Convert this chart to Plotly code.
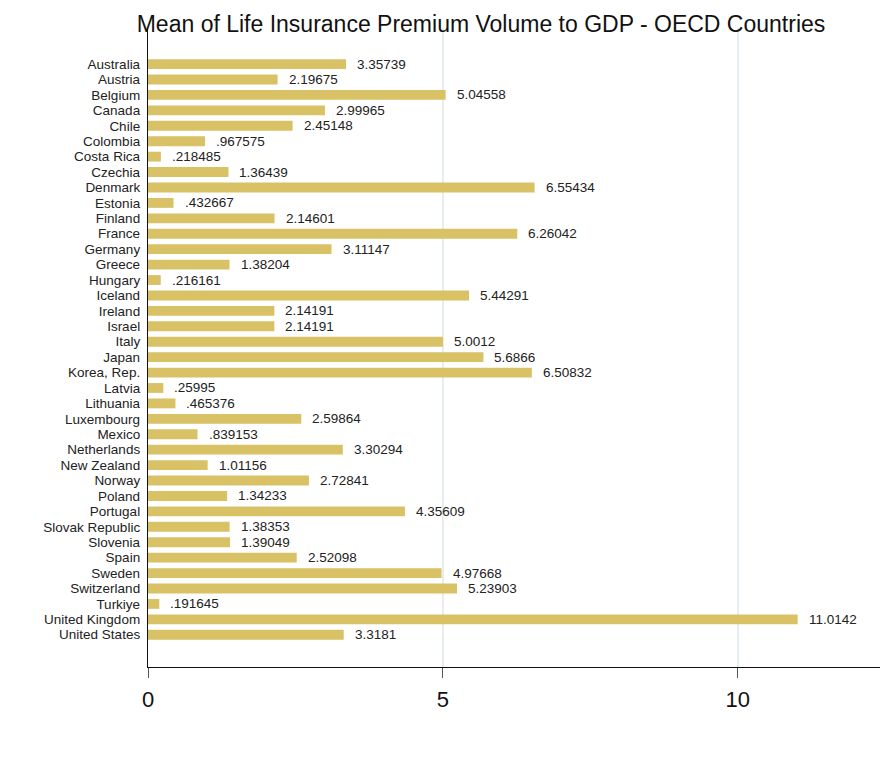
import plotly.graph_objects as go

countries = ["Australia", "Austria", "Belgium", "Canada", "Chile", "Colombia", "Costa Rica",
             "Czechia", "Denmark", "Estonia", "Finland", "France", "Germany", "Greece", "Hungary",
             "Iceland", "Ireland", "Israel", "Italy", "Japan", "Korea, Rep.", "Latvia", "Lithuania",
             "Luxembourg", "Mexico", "Netherlands", "New Zealand", "Norway", "Poland", "Portugal",
             "Slovak Republic", "Slovenia", "Spain", "Sweden", "Switzerland", "Turkiye",
             "United Kingdom", "United States"]
values = [3.35739, 2.19675, 5.04558, 2.99965, 2.45148, 0.967575, 0.218485,
          1.36439, 6.55434, 0.432667, 2.14601, 6.26042, 3.11147, 1.38204, 0.216161,
          5.44291, 2.14191, 2.14191, 5.0012, 5.6866, 6.50832, 0.25995, 0.465376,
          2.59864, 0.839153, 3.30294, 1.01156, 2.72841, 1.34233, 4.35609,
          1.38353, 1.39049, 2.52098, 4.97668, 5.23903, 0.191645,
          11.0142, 3.3181]
x_ticks = [0, 5, 10]
title = "Mean of Life Insurance Premium Volume to GDP - OECD Countries"


def stata_fmt(v):
    s = f"{v:.6g}"
    if s.startswith("0."):
        s = s[1:]
    return s


labels = [stata_fmt(v) for v in values]

W, H = 884, 760
ML, MR, MT, MB = 140, 12, 20, 101
n = len(countries)
FONT = "Liberation Sans, Arial, Helvetica"

fig = go.Figure()
fig.add_trace(go.Bar(
    x=values, y=list(range(n)), orientation="h",
    marker=dict(color="#d9c266", line=dict(width=0)),
    width=0.64, hoverinfo="x+y",
))

for i, (v, lab) in enumerate(zip(values, labels)):
    fig.add_annotation(x=v, y=i, text=lab, showarrow=False, xanchor="left",
                       yanchor="middle", xshift=9,
                       font=dict(family=FONT, size=13.5, color="#222"))

fig.update_layout(
    width=W, height=H,
    margin=dict(l=ML, r=MR, t=MT, b=MB, pad=0, autoexpand=False),
    paper_bgcolor="white", plot_bgcolor="white",
    showlegend=False,
    title=dict(text=title, x=473 / W, xanchor="center", y=1 - 16 / H, yanchor="middle",
               font=dict(family=FONT, size=23, color="#111")),
    xaxis=dict(range=[0, 12.41], tickvals=x_ticks, ticktext=[str(t) for t in x_ticks],
               showgrid=True, gridcolor="#e6eef1", gridwidth=1.5, zeroline=False,
               showline=True, linecolor="#111", linewidth=1.3,
               ticks="outside", ticklen=10, tickcolor="#555", tickwidth=1,
               ticklabelstandoff=2,
               tickfont=dict(family=FONT, size=22, color="#111")),
    yaxis=dict(range=[n - 1 + 2.09, -2.34], tickvals=list(range(n)), ticktext=countries,
               showgrid=False, zeroline=False, showline=True, linecolor="#111", linewidth=1.3,
               ticks="", ticklabelstandoff=4,
               tickfont=dict(family=FONT, size=13.5, color="#222")),
    font=dict(family=FONT),
)

fig.write_html("out.html")
